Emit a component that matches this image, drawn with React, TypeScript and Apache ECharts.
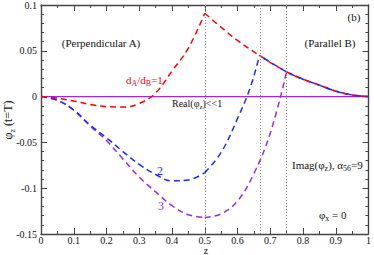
import React, { useEffect, useRef } from "react";
import * as echarts from "echarts";

// z sample points and values
const zLeft = [0, 0.05, 0.1, 0.15, 0.2, 0.25, 0.3, 0.35, 0.4, 0.45, 0.5];
const redLeft = [0, -0.0017, -0.0048, -0.0085, -0.011, -0.0114, -0.0075, 0.004, 0.028, 0.053, 0.091];
const blueLeft = [0, -0.004, -0.0146, -0.031, -0.045, -0.06, -0.074, -0.085, -0.092, -0.091, -0.083];
const purpleLeft = [0, -0.004, -0.015, -0.032, -0.048, -0.068, -0.088, -0.104, -0.119, -0.129, -0.132];

const zRight = [0.5, 0.55, 0.6, 0.667, 0.75, 0.8, 0.85, 0.9, 0.95, 1];
const redRight = [0.091, 0.0757, 0.0613, 0.045, 0.027, 0.019, 0.0125, 0.006, 0.0018, 0];

const zBlueRise = [0.5, 0.55, 0.6, 0.64, 0.667];
const blueRise = [-0.083, -0.061, -0.024, 0.011, 0.045];
const zPurpleRise = [0.5, 0.55, 0.6, 0.65, 0.7, 0.75];
const purpleRise = [-0.132, -0.128, -0.114, -0.084, -0.04, 0.027];

const zeroLineZ = [0, 1];
const zeroLineY = [0, 0];

const blueJoin = 0.667;
const purpleJoin = 0.75;
const guideZ = [0.5, 0.667, 0.75];

const RED = "#ff0000";
const BLUE = "#1a2dff";
const PURPLE = "#9a2be2";
const FONT = "Liberation Serif, Times New Roman, serif";

const pairs = (xs: number[], ys: number[]) => xs.map((x, i) => [x, ys[i]]);
const tail = (from: number) =>
  pairs(zRight, redRight).filter((p) => p[0] >= from - 1e-9);

export default function App() {
  const ref = useRef<HTMLDivElement>(null);
  useEffect(() => {
    if (!ref.current) return;
    const chart = echarts.init(ref.current, null, { renderer: "svg" });
    const dashed = (color: string, offset = 0) => ({
      color,
      width: 1.5,
      type: [6, 4],
      dashOffset: offset,
    });
    const line = (data: number[][], color: string, offset = 0, extra: any = {}) => ({
      type: "line",
      data,
      smooth: 0.4,
      showSymbol: false,
      symbol: "none",
      lineStyle: dashed(color, offset),
      itemStyle: { color },
      silent: true,
      ...extra,
    });
    const tickColor = "#444";
    const axisCommon = {
      type: "value",
      axisLine: { onZero: false, lineStyle: { color: "#444", width: 1.4 } },
      splitLine: { show: false },
    };
    const xCommon = {
      ...axisCommon,
      min: 0,
      max: 1,
      interval: 0.1,
      axisTick: { inside: true, length: 6, lineStyle: { color: tickColor } },
      minorTick: { show: true, splitNumber: 2, length: 3, lineStyle: { color: tickColor } },
    };
    const yCommon = {
      ...axisCommon,
      min: -0.15,
      max: 0.1,
      interval: 0.05,
      axisTick: { inside: true, length: 6, lineStyle: { color: tickColor } },
      minorTick: { show: true, splitNumber: 5, length: 3, lineStyle: { color: tickColor } },
    };
    const sub = { fontSize: 8, fontFamily: FONT, verticalAlign: "bottom", lineHeight: 8 };
    chart.setOption({
      animation: false,
      grid: { left: 41, right: 3, top: 4, bottom: 21 },
      xAxis: [
        {
          ...xCommon,
          position: "bottom",
          axisLabel: { fontFamily: FONT, fontSize: 10, color: "#111", margin: 2, lineHeight: 9 },
        },
        { ...xCommon, position: "top", axisLabel: { show: false } },
      ],
      yAxis: [
        {
          ...yCommon,
          position: "left",
          axisLabel: { fontFamily: FONT, fontSize: 10, color: "#111", margin: 4 },
        },
        { ...yCommon, position: "right", axisLabel: { show: false } },
      ],
      series: [
        {
          type: "line",
          data: pairs(zeroLineZ, zeroLineY),
          showSymbol: false,
          symbol: "none",
          silent: true,
          lineStyle: { color: PURPLE, width: 1.2, type: "solid" },
          markLine: {
            silent: true,
            symbol: ["none", "none"],
            label: { show: false },
            lineStyle: { type: [1, 2], color: "#888", width: 1 },
            data: guideZ.map((z) => ({ xAxis: z })),
          },
        },
        line(pairs(zLeft, purpleLeft), PURPLE),
        line(pairs(zPurpleRise, purpleRise), PURPLE),
        line(tail(purpleJoin), PURPLE),
        line(pairs(zLeft, blueLeft), BLUE),
        line(pairs(zBlueRise, blueRise), BLUE),
        line(pairs(zLeft, redLeft), RED),
        line(pairs(zRight, redRight), RED),
        line(tail(blueJoin), BLUE, 5),
      ],
      graphic: [
        { type: "text", x: 101, y: 43, style: { text: "(Perpendicular A)", fontSize: 11, fontFamily: FONT, fill: "#111", align: "center", verticalAlign: "middle" } },
        { type: "text", x: 330, y: 43, style: { text: "(Parallel B)", fontSize: 11, fontFamily: FONT, fill: "#111", align: "center", verticalAlign: "middle" } },
        { type: "text", x: 354, y: 17, style: { text: "(b)", fontSize: 11, fontFamily: FONT, fill: "#111", align: "center", verticalAlign: "middle" } },
        {
          type: "text", x: 126, y: 80,
          style: {
            text: "{m|d}{s|A}{m|/d}{s|B}{m|=1}",
            fill: RED, verticalAlign: "middle",
            rich: { m: { fontSize: 11, fontFamily: FONT, color: RED, lineHeight: 15 }, s: { ...sub, color: RED } },
          },
        },
        {
          type: "text", x: 172, y: 103,
          style: {
            text: "{m|Real(φ}{s|z}{m|)<<1}",
            fill: "#111", verticalAlign: "middle",
            rich: { m: { fontSize: 10, fontFamily: FONT, color: "#111", lineHeight: 14 }, s: { ...sub, fontSize: 7, lineHeight: 7, color: "#111" } },
          },
        },
        { type: "text", x: 160, y: 171, style: { text: "2", fontSize: 12, fontFamily: FONT, fill: BLUE, align: "center", verticalAlign: "middle" } },
        { type: "text", x: 161, y: 206, style: { text: "3", fontSize: 12, fontFamily: FONT, fill: PURPLE, align: "center", verticalAlign: "middle" } },
        {
          type: "text", x: 292, y: 165,
          style: {
            text: "{m|Imag(φ}{s|z}{m|), α}{s|56}{m|=9}",
            fill: "#111", verticalAlign: "middle",
            rich: { m: { fontSize: 11, fontFamily: FONT, color: "#111", lineHeight: 15 }, s: { ...sub, color: "#111" } },
          },
        },
        {
          type: "text", x: 319, y: 215,
          style: {
            text: "{m|φ}{s|x}{m| = 0}",
            fill: "#111", verticalAlign: "middle",
            rich: { m: { fontSize: 11, fontFamily: FONT, color: "#111", lineHeight: 15 }, s: { ...sub, color: "#111" } },
          },
        },
        {
          type: "text", x: 8, y: 120, rotation: Math.PI / 2,
          style: {
            text: "{m|φ}{s|z}{m| (t=T)}",
            fill: "#111", align: "center", verticalAlign: "middle",
            rich: { m: { fontSize: 12, fontFamily: FONT, color: "#111", lineHeight: 16 }, s: { ...sub, color: "#111" } },
          },
        },
        { type: "text", x: 206, y: 255, style: { text: "z", fontSize: 10, lineHeight: 9, fontFamily: FONT, fill: "#111", align: "center", verticalAlign: "bottom" } },
      ],
    });
    return () => chart.dispose();
  }, []);
  return (
    <div
      ref={ref}
      style={{ position: "absolute", left: 0, top: 0, width: 374, height: 255 }}
    />
  );
}
